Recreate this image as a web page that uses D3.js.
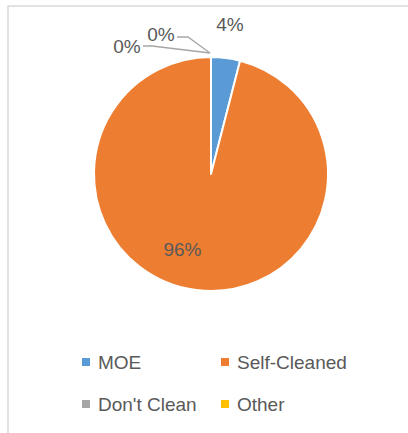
<!DOCTYPE html>
<html>
<head>
<meta charset="utf-8">
<script src="https://cdn.jsdelivr.net/npm/d3@7"></script>
<style>
  html, body { margin: 0; padding: 0; background: #fff; }
  svg { display: block; font-family: "Liberation Sans", Arial, sans-serif; }
</style>
</head>
<body>
<script>
// chart data
const categories = ["MOE", "Self-Cleaned", "Don't Clean", "Other"];
const values = [4, 96, 0, 0];
const labels = ["4%", "96%", "0%", "0%"];
const colors = ["#5b9bd5", "#ed7d31", "#a5a5a5", "#ffc000"];

const width = 408, height = 433;
const cx = 211, cy = 174, radius = 117;

const svg = d3.select("body").append("svg")
    .attr("width", width)
    .attr("height", height);

// chart area border (cropped on right and bottom)
svg.append("rect")
    .attr("x", 8).attr("y", 6)
    .attr("width", width + 20).attr("height", height + 20)
    .attr("fill", "none")
    .attr("stroke", "#d9d9d9")
    .attr("stroke-width", 1.5);

const data = categories.map((c, i) => ({name: c, value: values[i], label: labels[i], color: colors[i]}));

const pie = d3.pie().value(d => d.value).sort(null);
const arcs = pie(data);

const arc = d3.arc().innerRadius(0).outerRadius(radius);

const g = svg.append("g").attr("transform", `translate(${cx},${cy})`);

g.selectAll("path")
    .data(arcs.filter(d => d.data.value > 0))
    .join("path")
    .attr("d", arc)
    .attr("fill", d => d.data.color)
    .attr("stroke", "#fff")
    .attr("stroke-width", 2)
    .attr("stroke-linejoin", "round");

const textColor = "#595959";
const fontSize = 19;

// label for the small slice sits outside the pie
const outerLabelArc = d3.arc().innerRadius(radius * 1.29).outerRadius(radius * 1.29);
const innerLabelArc = d3.arc().innerRadius(radius * 0.65).outerRadius(radius * 0.65);

// 4% outside
g.append("text")
    .attr("transform", `translate(${outerLabelArc.centroid(arcs[0])})`)
    .attr("text-anchor", "middle")
    .attr("dy", "0.35em")
    .attr("fill", textColor)
    .attr("font-size", fontSize)
    .text(arcs[0].data.label);

// 96% inside (best-fit nudged left)
const c1 = innerLabelArc.centroid(arcs[1]);
g.append("text")
    .attr("transform", `translate(${c1[0] - 19},${c1[1]})`)
    .attr("text-anchor", "middle")
    .attr("dy", "0.35em")
    .attr("fill", textColor)
    .attr("font-size", fontSize)
    .text(arcs[1].data.label);

// zero slices: labels with leader lines to the top of the pie
const pieTop = d3.arc().innerRadius(radius).outerRadius(radius)
    .startAngle(arcs[2].startAngle).endAngle(arcs[2].startAngle).centroid();
const anchor = [pieTop[0] - 1, pieTop[1] - 4];
const leaders = [
  {d: arcs[2], pts: [[-67, -7], [-58, -7]], text: [-83, -7]},
  {d: arcs[3], pts: [[-33, -16], [-22, -16]], text: [-49, -19]}
];
leaders.forEach(l => {
  const p = l.pts.map(q => [anchor[0] + q[0], anchor[1] + q[1]]);
  p.push(anchor);
  g.append("path")
      .attr("d", d3.line()(p))
      .attr("fill", "none")
      .attr("stroke", "#a6a6a6")
      .attr("stroke-width", 1.3);
  g.append("text")
      .attr("x", anchor[0] + l.text[0])
      .attr("y", anchor[1] + l.text[1])
      .attr("text-anchor", "middle")
      .attr("dy", "0.35em")
      .attr("fill", textColor)
      .attr("font-size", fontSize)
      .text(l.d.data.label);
});

// legend
const legendX = [82, 221];
const legendY = [362, 404];
const legend = svg.selectAll("g.legend")
    .data(data)
    .join("g")
    .attr("class", "legend")
    .attr("transform", (d, i) => `translate(${legendX[i % 2]},${legendY[Math.floor(i / 2)]})`);

legend.append("rect")
    .attr("x", 0).attr("y", -4)
    .attr("width", 8).attr("height", 8)
    .attr("fill", d => d.color);

legend.append("text")
    .attr("x", 16)
    .attr("y", 0)
    .attr("dy", "0.35em")
    .attr("fill", textColor)
    .attr("font-size", fontSize)
    .text(d => d.name);
</script>
</body>
</html>
